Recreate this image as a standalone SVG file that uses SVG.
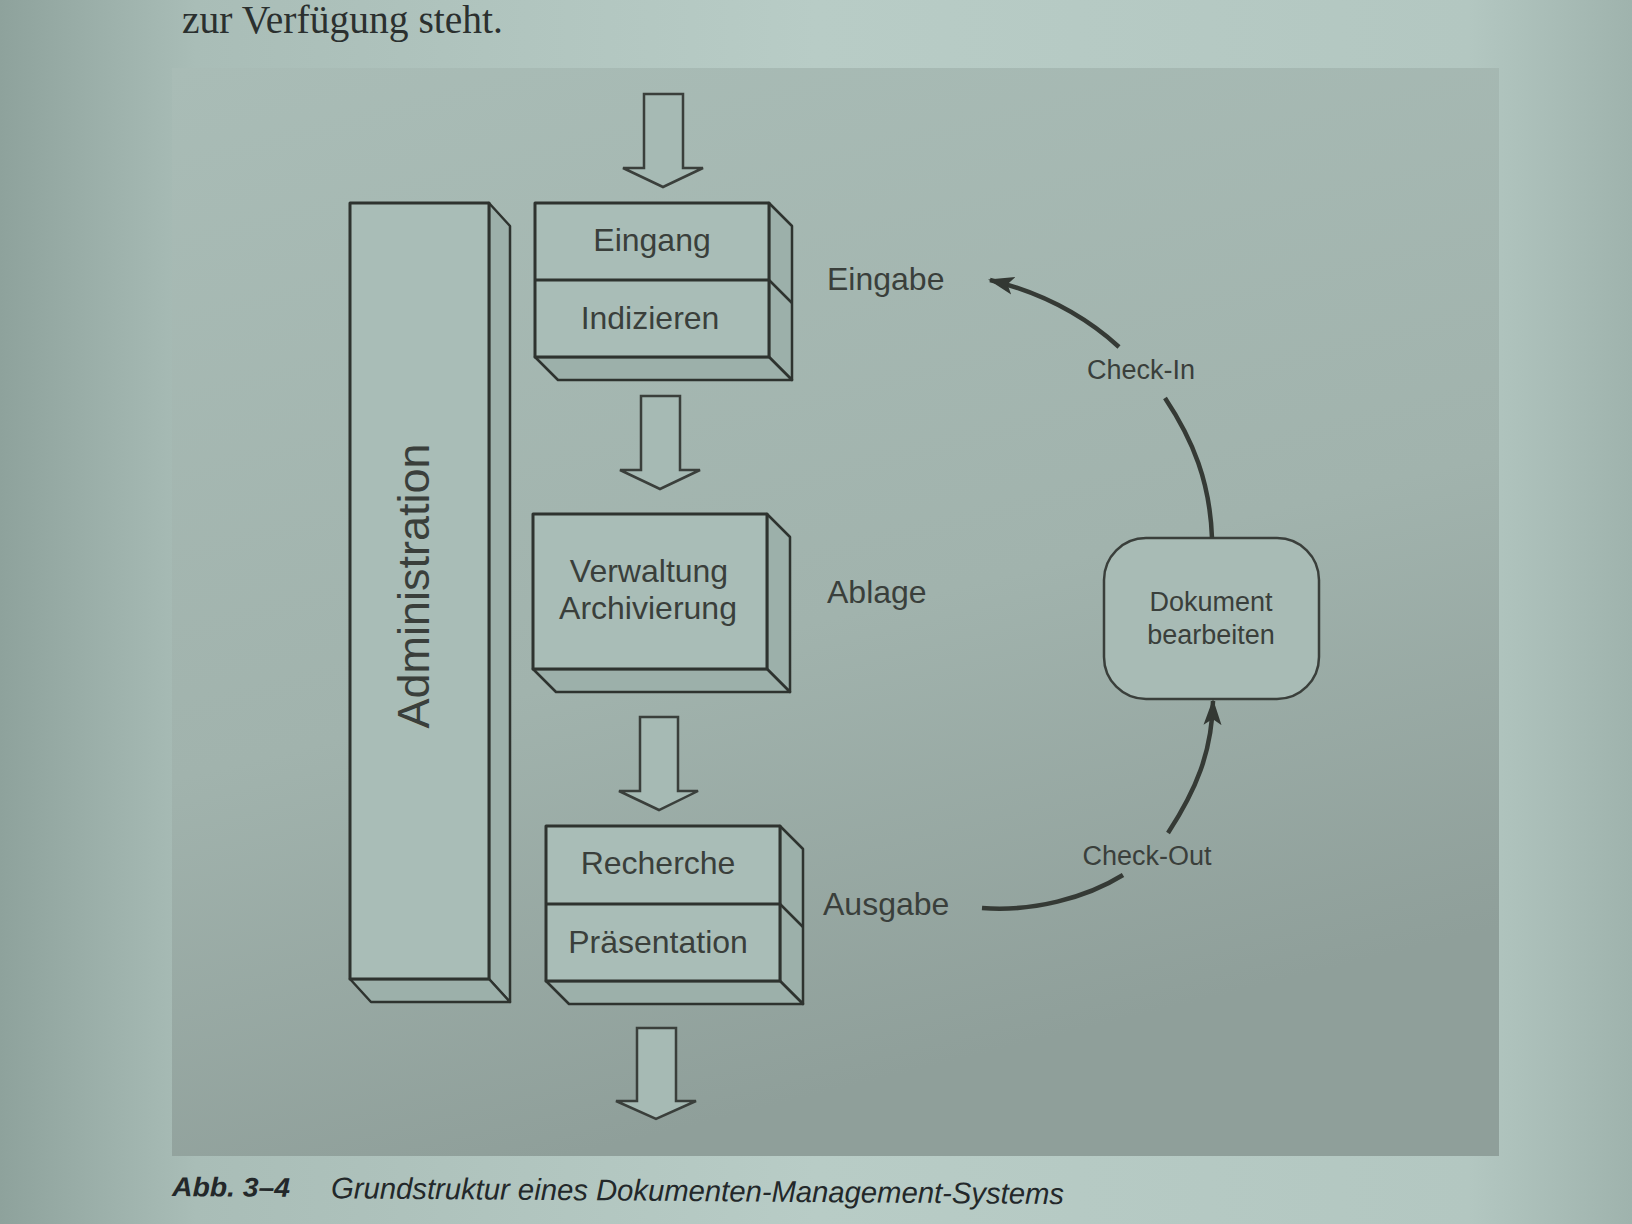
<svg xmlns="http://www.w3.org/2000/svg" width="1632" height="1224" viewBox="0 0 1632 1224">
<defs>
<linearGradient id="page" x1="0" y1="0" x2="1" y2="0">
<stop offset="0" stop-color="#8ea29c"/>
<stop offset="0.12" stop-color="#a9bdb7"/>
<stop offset="0.5" stop-color="#b8ccc6"/>
<stop offset="0.9" stop-color="#b3c7c1"/>
<stop offset="1" stop-color="#9fb3ad"/>
</linearGradient>
<linearGradient id="panel" x1="0" y1="0" x2="0.3" y2="1">
<stop offset="0" stop-color="#a9bcb6"/>
<stop offset="0.6" stop-color="#a1b3ad"/>
<stop offset="1" stop-color="#8f9f9a"/>
</linearGradient>
<marker id="ah" markerUnits="userSpaceOnUse" markerWidth="26" markerHeight="20" refX="24" refY="10" orient="auto">
<path d="M0,1 L26,10 L0,19 L6,10 z" fill="#333833"/>
</marker>
<style>
.face{fill:#a9bdb7;stroke:#2e332f;stroke-width:3;stroke-linejoin:round}
.side{fill:#9cb0aa;stroke:#2e332f;stroke-width:2.5;stroke-linejoin:round}
.ln{stroke:#2e332f;stroke-width:3;fill:none}
.arr{fill:#a6bab4;stroke:#3a3f3b;stroke-width:2.5;stroke-linejoin:miter}
.t{font-family:"Liberation Sans",Arial,sans-serif;fill:#3a3f3b;text-anchor:middle}
.big{font-size:32px}
.small{font-size:27px}
.lab{font-family:"Liberation Sans",Arial,sans-serif;fill:#3a3f3b;font-size:32px}
.con{fill:none;stroke:#353a35;stroke-width:4.5;stroke-linecap:butt}
</style>
</defs>
<rect x="0" y="0" width="1632" height="1224" fill="url(#page)"/>
<rect x="172" y="68" width="1327" height="1088" fill="url(#panel)"/>

<text x="182" y="33" font-family="Liberation Serif,'Times New Roman',serif" font-size="39" fill="#2b302f" textLength="321" lengthAdjust="spacingAndGlyphs">zur Verfügung steht.</text>

<g id="administration">
<polygon class="side" points="489,203 510,226 510,1002 489,979"/>
<polygon class="side" points="350,979 489,979 510,1002 371,1002"/>
<rect class="face" x="350" y="203" width="139" height="776"/>
<text class="t" x="0" y="0" font-size="45" transform="translate(429,586) rotate(-90)">Administration</text>
</g>

<g id="eingang-indizieren">
<polygon class="side" points="769,203 792,226 792,380 769,357"/>
<polygon class="side" points="535,357 769,357 792,380 558,380"/>
<line class="ln" x1="769" y1="280" x2="792" y2="303" style="stroke-width:2.5"/>
<rect class="face" x="535" y="203" width="234" height="154"/>
<line class="ln" x1="535" y1="280" x2="769" y2="280"/>
<text class="t big" x="652" y="251">Eingang</text>
<text class="t big" x="650" y="329">Indizieren</text>
</g>

<g id="verwaltung-archivierung">
<polygon class="side" points="767,514 790,537 790,692 767,669"/>
<polygon class="side" points="533,669 767,669 790,692 556,692"/>
<rect class="face" x="533" y="514" width="234" height="155"/>
<text class="t big" x="649" y="582">Verwaltung</text>
<text class="t big" x="648" y="619">Archivierung</text>
</g>

<g id="recherche-praesentation">
<polygon class="side" points="780,826 803,849 803,1004 780,981"/>
<polygon class="side" points="546,981 780,981 803,1004 569,1004"/>
<line class="ln" x1="780" y1="904" x2="803" y2="927" style="stroke-width:2.5"/>
<rect class="face" x="546" y="826" width="234" height="155"/>
<line class="ln" x1="546" y1="904" x2="780" y2="904"/>
<text class="t big" x="658" y="874">Recherche</text>
<text class="t big" x="658" y="953">Präsentation</text>
</g>

<g id="dokument-bearbeiten">
<rect x="1104" y="538" width="215" height="161" rx="42" ry="42" fill="#a8bbb5" stroke="#3a3f3b" stroke-width="2.5"/>
<text class="t small" x="1211" y="611">Dokument</text>
<text class="t small" x="1211" y="644">bearbeiten</text>
</g>

<g id="labels">
<text class="lab" x="827" y="290">Eingabe</text>
<text class="lab" x="827" y="603">Ablage</text>
<text class="lab" x="823" y="915">Ausgabe</text>
<text class="t small" x="1141" y="379">Check-In</text>
<text class="t small" x="1147" y="865">Check-Out</text>
</g>

<g id="connectors">
<polygon class="arr" points="644,94 683,94 683,168 703,168 663,187 623,168 644,168"/>
<polygon class="arr" points="641,396 680,396 680,470 700,470 660,489 620,470 641,470"/>
<polygon class="arr" points="640,717 678,717 678,791 698,791 659,810 619,791 640,791"/>
<polygon class="arr" points="637,1028 676,1028 676,1101 696,1101 656,1119 616,1101 637,1101"/>
<path class="con" d="M1212,538 C1210,482 1193,440 1165,398"/>
<path class="con" d="M1119,347 C1085,316 1043,293 990,280" marker-end="url(#ah)"/>
<path class="con" d="M1168,833 C1196,790 1212,752 1213,701" marker-end="url(#ah)"/>
<path class="con" d="M982,908 C1032,912 1086,898 1123,875"/>
</g>

<g id="caption" transform="rotate(0.45,172,1196)">
<text x="172" y="1196" font-family="Liberation Sans,Arial,sans-serif" font-size="27" font-weight="bold" font-style="italic" fill="#23282a" textLength="118" lengthAdjust="spacingAndGlyphs">Abb. 3–4</text>
<text x="331" y="1197" font-family="Liberation Sans,Arial,sans-serif" font-size="30" font-style="italic" fill="#23282a" textLength="733" lengthAdjust="spacingAndGlyphs">Grundstruktur eines Dokumenten-Management-Systems</text>
</g>
</svg>
